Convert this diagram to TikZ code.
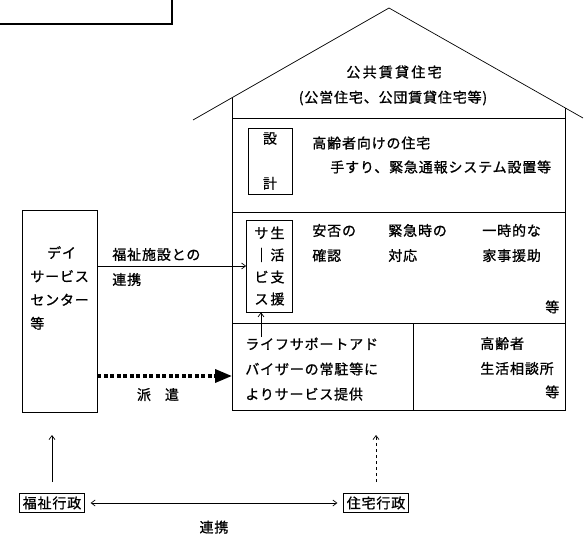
\documentclass[tikz,border=0pt]{standalone}
\usepackage{fontspec}
\setmainfont{Noto Sans CJK JP}[LetterSpace=6,FakeBold=1]
\newfontfamily\widefont{Noto Sans CJK JP}[LetterSpace=16,FakeBold=1]
\usetikzlibrary{arrows.meta}

\begin{document}
\begin{tikzpicture}[x=1pt,y=-1pt,line width=0.7pt,>={Straight Barb[length=4pt,width=6pt]},
  txt node/.style={align=left,anchor=west,inner sep=0pt,font=\fontsize{14pt}{25pt}\selectfont},
  box node/.style={draw,align=center,inner sep=0pt,font=\fontsize{14pt}{22pt}\selectfont},
  gov node/.style={draw,inner sep=3pt,font=\fontsize{14pt}{16pt}\selectfont},
  haken/.style={line width=3.5pt,dash pattern=on 4pt off 2.5pt,-{Triangle[length=17pt,width=13pt]}}]

  \useasboundingbox (0,0) rectangle (584,535);

  \draw[line width=1.5pt] (0,24) -- (172,24) -- (172,0);

  \draw (193,120) -- (389,8) -- (583,118);
  \draw (232,98) -- (232,410) -- (565,410) -- (565,108);
  \draw (232,118) -- (565,118);
  \draw (232,212) -- (565,212);
  \draw (232,323) -- (565,323);
  \draw (413,323) -- (413,410);

  \node[txt node,anchor=center,font=\widefont\fontsize{14pt}{16pt}\selectfont] at (394,72) (title) {公共賃貸住宅};
  \node[txt node,anchor=center] at (393,98) (subtitle) {(公営住宅、公団賃貸住宅等)};

  \node[box node,minimum width=44pt,minimum height=66pt,font=\fontsize{14pt}{25pt}\selectfont] at (270,161) (sekkei) {設\\[20pt]計};
  \node[txt node] at (312,143) (kourei) {高齢者向けの住宅};
  \node[txt node] at (330,167) (tesuri) {手すり、緊急通報システム設置等};

  \node[box node,minimum width=46pt,minimum height=92pt] at (269.5,266) (shien) {サ\hspace{2pt}生\\｜\hspace{2pt}活\\ビ\hspace{2pt}支\\ス\hspace{2pt}援};
  \node[txt node] at (312,243) (anpi) {安否の\\確認};
  \node[txt node] at (388,243) (kinkyu) {緊急時の\\対応};
  \node[txt node] at (482,243) (kaji) {一時的な\\家事援助};
  \node[txt node] at (545,307) (tou1) {等};

  \node[txt node] at (245,369) (lsa) {ライフサポートアド\\バイザーの常駐等に\\よりサービス提供};
  \node[txt node] at (480,356) (soudan) {高齢者\\生活相談所};
  \node[txt node] at (545,392) (tou2) {等};

  \node[draw,minimum width=75pt,minimum height=202pt] at (59.5,311) (day) {};
  \node[txt node,font=\fontsize{14pt}{23.5pt}\selectfont] at (30,288) (daytext) {\hspace*{1.2em}デイ\\サービス\\センター\\等};
  \node[txt node] at (112,267) (renkei1) {福祉施設との\\連携};

  \node[gov node] at (52,503) (fukushi) {福祉行政};
  \node[gov node] at (376,503) (jutaku) {住宅行政};

  \coordinate (wallL) at (232,376);
  \coordinate (lsatop) at (261,337);
  \coordinate (fkTop) at (52,435);
  \coordinate (jtTop) at (376,435);

  \path[->,every node/.style={font=\fontsize{14pt}{16pt}\selectfont}]
  (day.east |- shien.west) edge (shien.west)
  (lsatop) edge (lsatop |- shien.south)
  (fukushi) edge[shorten <=11pt] (fkTop)
  (jutaku) edge[shorten <=11pt,dashed] (jtTop)
  (fukushi) edge[<->,shorten <=6pt,shorten >=6pt] node[below=14pt] {連携} (jutaku)
  (day.east |- wallL) edge[haken] node[below=7pt,pos=0.45] {派\quad 遣} (wallL);
\end{tikzpicture}
\end{document}
